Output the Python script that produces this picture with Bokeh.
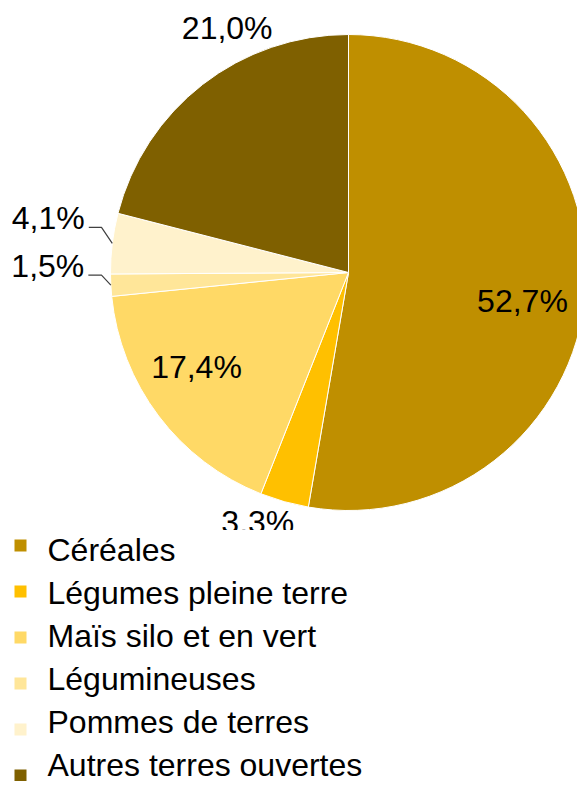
import math
from bokeh.plotting import figure
from bokeh.layouts import column
from bokeh.models import Range1d, ColumnDataSource
from bokeh.core.properties import value
from bokeh.embed import file_html
from bokeh.resources import INLINE

# ---- data ----
categories = ["Céréales", "Légumes pleine terre", "Maïs silo et en vert",
              "Légumineuses", "Pommes de terres", "Autres terres ouvertes"]
shares = [52.7, 3.3, 17.4, 1.5, 4.1, 21.0]
colors = ["#BF8F00", "#FFC000", "#FFD966", "#FFE699", "#FFF2CC", "#7F6000"]

# ---- layout (picture pixels) ----
W = 577
PIE_H = 530
LEG_H = 251
CX, CY, R = 348, 272, 238
FONT = "Liberation Sans"
FS = "32px"
# per-label placement: radial fraction, extra dx, extra dy (px)
label_place = [(0.74, -1.5, 14), (1.1, -20, -3), (0.75, -9.6, -13.6),
               (1.0, -63, -19), (1.0, -64, -25), (1.14, 45, -30)]
leader = [False, False, False, True, True, False]


def sy(v):
    return PIE_H - v


def base_fig(h, yr):
    f = figure(frame_width=W, frame_height=h,
               x_range=Range1d(0, W), y_range=yr,
               x_axis_type=None, y_axis_type=None,
               output_backend="svg", toolbar_location=None,
               min_border=0, outline_line_color=None,
               background_fill_color="white", border_fill_color="white")
    f.grid.visible = False
    return f


p = base_fig(PIE_H, Range1d(0, PIE_H))

total = sum(shares)
starts, ends, mids = [], [], []
cum = 0.0
for s in shares:
    a0 = math.pi / 2 - 2 * math.pi * cum / total
    cum += s
    a1 = math.pi / 2 - 2 * math.pi * cum / total
    starts.append(a0)
    ends.append(a1)
    mids.append((a0 + a1) / 2)

src = ColumnDataSource(dict(cat=categories, start=starts, end=ends, color=colors))
p.wedge(x=CX, y=sy(CY), radius=R, start_angle="start", end_angle="end",
        direction="clock", fill_color="color", line_color="white",
        line_width=1, source=src)

lx, ly, ltxt = [], [], []
for i, s in enumerate(shares):
    frac, dx, dy = label_place[i]
    ax = CX + R * frac * math.cos(mids[i]) + dx
    ay = CY - R * frac * math.sin(mids[i]) + dy
    lx.append(ax)
    ly.append(sy(ay))
    ltxt.append(f"{s:.1f}".replace(".", ",") + "%")
    if leader[i]:
        ex = CX + R * math.cos(mids[i])
        ey = CY - R * math.sin(mids[i])
        p.line([ax + 40.5, 101, ex], [sy(ay + 9), sy(ay + 9), sy(ey)],
               line_color="#404040", line_width=1.2)

p.text(x=lx, y=ly, text=ltxt, text_font=value(FONT), text_font_size=FS,
       text_align="center", text_baseline="middle", text_color="black")

# ---- legend (second panel, y grows downward in picture px) ----
q = base_fig(LEG_H, Range1d(PIE_H + LEG_H, PIE_H))
rows = list(range(len(categories)))
mark_y = [545 + 46 * i for i in rows]
text_y = [549 + 43 * i for i in rows]
q.scatter(x=[20] * len(rows), y=mark_y, marker="square", size=12,
          fill_color=colors, line_color=None)
q.text(x=[47] * len(rows), y=text_y, text=categories, text_font=value(FONT),
       text_font_size=FS, text_align="left", text_baseline="middle",
       text_color="black")

layout = column(p, q, spacing=0)
open("out.html", "w").write(file_html(layout, INLINE))
